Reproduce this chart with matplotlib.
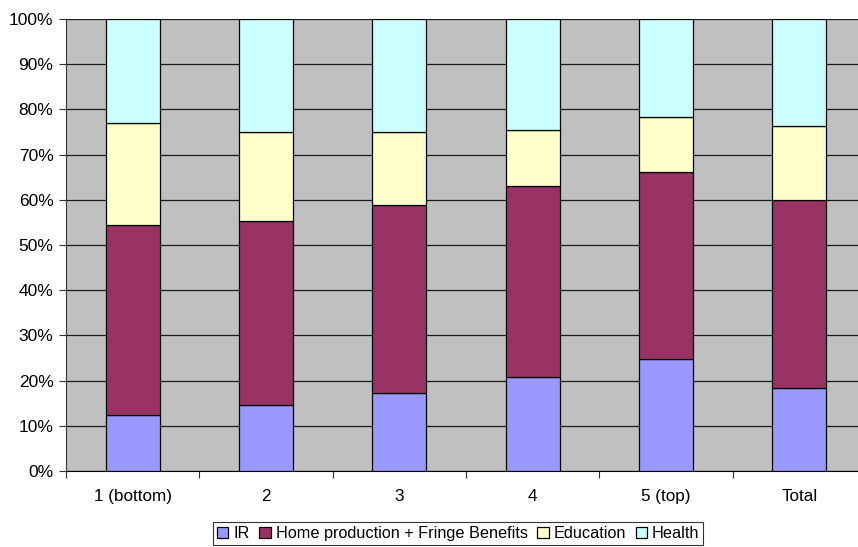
import matplotlib.pyplot as plt
from matplotlib.ticker import FixedLocator, PercentFormatter
import numpy as np

plt.rcParams['font.family'] = ['Liberation Sans', 'DejaVu Sans']

groups = ['1 (bottom)', '2', '3', '4', '5 (top)', 'Total']
series = ['IR', 'Home production + Fringe Benefits', 'Education', 'Health']

# shares of each component, percent
ir = [12.4, 14.5, 17.2, 20.9, 24.7, 18.3]
home = [42.0, 40.9, 41.7, 42.2, 41.5, 41.6]
education = [22.5, 19.7, 16.1, 12.3, 12.2, 16.4]
health = [23.1, 24.9, 25.0, 24.6, 21.6, 23.7]

colors = ['#9999FF', '#993366', '#FFFFCC', '#CCFFFF']

fig = plt.figure(figsize=(8.58, 5.47), dpi=100)
ax = fig.add_axes([0.0769, 0.139, 0.9324, 0.8263])
ax.set_facecolor('#C0C0C0')

x = np.arange(len(groups))
bottom = np.zeros(len(groups))
for name, vals, col in zip(series, [ir, home, education, health], colors):
    ax.bar(x, vals, 0.405, bottom=bottom, color=col, edgecolor='black',
           linewidth=0.9, label=name, zorder=3)
    bottom += np.array(vals)

ax.set_xlim(-0.5, len(groups) - 0.5)
ax.set_ylim(0, 100)
ax.set_yticks(np.arange(0, 101, 10))
ax.yaxis.set_major_formatter(PercentFormatter(decimals=0))
ax.yaxis.grid(True, color='#1a1a1a', linewidth=0.9, zorder=1)
ax.set_axisbelow(True)

ax.set_xticks(x)
ax.set_xticklabels(groups)
ax.xaxis.set_minor_locator(FixedLocator(np.arange(-0.5, len(groups), 1.0)))
ax.tick_params(axis='x', which='major', length=0, pad=13, labelsize=12.3)
ax.tick_params(axis='x', which='minor', length=5, width=0.8, color='#333333')
ax.tick_params(axis='y', length=5, width=0.8, color='#333333', labelsize=12.5, pad=4)

for side in ['top', 'right']:
    ax.spines[side].set_visible(False)
ax.spines['left'].set_color('#333333')
ax.spines['bottom'].set_color('black')

leg = fig.legend(loc='center', bbox_to_anchor=(0.534, 0.0247), ncol=4,
                 fontsize=11.7, frameon=True, fancybox=False, edgecolor='black',
                 handlelength=0.7, handleheight=0.7, handletextpad=0.3,
                 columnspacing=0.6, borderpad=0.22, borderaxespad=0)
leg.get_frame().set_linewidth(0.8)

fig.savefig('out.png', dpi=100)
